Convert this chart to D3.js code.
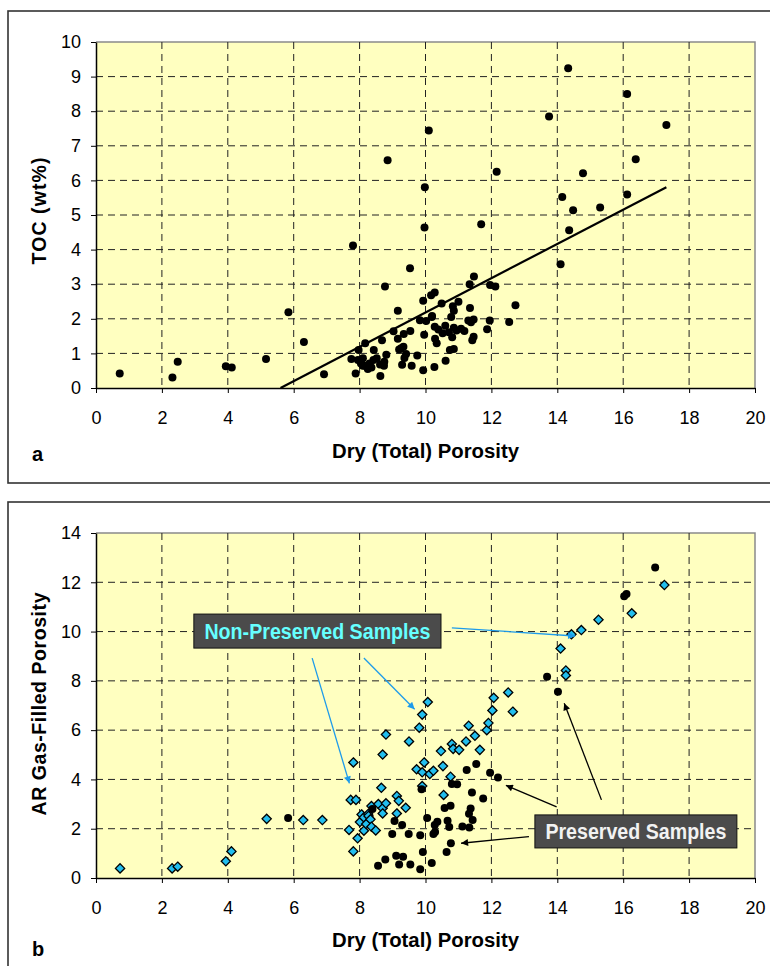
<!DOCTYPE html>
<html>
<head>
<meta charset="utf-8">
<script src="https://cdn.jsdelivr.net/npm/d3@7"></script>
<style>
  body { margin: 0; background: #fff; }
  svg text { font-family: "Liberation Sans", Arial, Helvetica, sans-serif; }
</style>
</head>
<body>
<svg id="chart" width="770" height="966"></svg>
<script>
// ---- data -------------------------------------------------------------
// Panel a: dry (total) porosity vs TOC (wt%)
const tocSamples = [
  [0.72,0.42],[2.32,0.30],[2.48,0.76],[3.94,0.63],[4.12,0.59],[5.16,0.84],[5.84,2.19],[6.31,1.33],[6.92,0.40],
  [7.80,4.12],[8.85,6.58],[10.10,7.44],[9.98,5.80],[9.97,4.64],[9.53,3.46],[8.77,2.93],
  [13.75,7.85],[14.33,9.24],[16.12,8.50],[17.31,7.60],[16.38,6.61],[12.16,6.25],[14.78,6.21],[14.15,5.52],
  [16.12,5.59],[14.48,5.14],[15.30,5.22],[14.36,4.56],[14.10,3.58],[11.69,4.73],
  [11.47,3.22],[11.34,3.00],[11.96,2.98],[12.12,2.93],[12.73,2.39],[12.54,1.91],[11.95,1.95],[11.87,1.70],
  [9.16,2.23],[9.93,2.52],[10.17,2.68],[10.28,2.76],[10.49,2.44],[10.83,2.36],[10.86,2.23],[11.35,2.31],
  [10.78,2.05],[9.83,1.96],[10.02,1.94],[10.19,2.05],[10.28,1.77],[10.39,1.69],[10.52,1.58],[10.60,1.80],
  [10.71,1.61],[10.81,1.47],[10.86,1.74],[10.94,1.66],[11.08,1.71],[11.18,1.65],[11.30,1.95],[11.38,1.90],
  [11.46,1.98],[11.46,1.48],[11.42,1.38],[10.29,1.42],[10.34,1.29],[10.86,1.13],[10.74,1.10],[10.61,0.79],
  [10.27,0.61],[9.93,0.51],[9.96,1.54],[9.75,0.94],[9.58,0.64],[9.54,1.65],[9.34,1.56],[9.16,1.42],
  [9.26,1.15],[9.33,1.19],[9.41,0.98],[9.36,0.87],[9.29,0.67],[9.20,1.11],[9.03,1.64],[8.68,1.38],
  [8.81,0.96],[8.74,0.64],[8.63,0.35],[8.52,0.86],[8.43,1.10],[8.17,1.29],[7.97,1.10],[7.75,0.84],
  [7.88,0.42],[8.10,0.86],[8.04,0.71],[8.16,0.64],[8.25,0.55],[8.36,0.59],[8.30,0.71],[8.62,0.68],
  [8.75,0.76],[8.42,0.81],[7.95,0.81],[8.10,0.64],[11.00,2.49],[10.20,2.08]
];
// Linear fit through panel a
const trendSlope = 0.4957;
const trendIntercept = -2.776;

// Panel b: dry (total) porosity vs AR gas-filled porosity
const preservedSamples = [
  [5.83,2.43],[8.39,2.80],[9.88,3.60],[10.80,3.81],[10.96,3.80],[11.25,4.38],[11.54,4.63],[11.96,4.27],
  [12.20,4.08],[11.41,3.47],[11.75,3.23],[10.58,2.84],[10.76,2.93],[11.37,2.82],[11.32,2.61],[10.05,2.43],
  [9.06,2.31],[9.29,2.15],[10.67,2.32],[10.72,2.07],[10.36,2.28],[10.28,2.15],[11.12,2.09],[11.33,2.05],
  [11.43,2.35],[10.24,1.79],[10.29,1.87],[9.49,1.79],[9.84,1.73],[8.99,1.79],[10.77,1.41],[10.64,1.06],
  [9.92,1.06],[9.11,0.90],[9.32,0.86],[8.78,0.75],[8.56,0.50],[9.20,0.55],[9.54,0.55],[9.84,0.36],
  [10.19,0.61],[13.69,8.17],[14.02,7.56],[16.03,11.43],[16.10,11.52],[16.97,12.60]
];
const nonPreservedSamples = [
  [0.73,0.39],[2.31,0.39],[2.48,0.46],[3.94,0.68],[4.11,1.08],[5.18,2.40],[6.29,2.35],[6.87,2.35],
  [7.68,1.95],[7.81,1.08],[7.94,1.61],[7.73,3.17],[7.89,3.17],[7.81,4.69],[8.01,2.27],[8.06,2.58],
  [8.13,2.46],[8.13,1.92],[8.20,2.19],[8.26,2.60],[8.27,2.52],[8.33,2.38],[8.36,2.08],[8.36,2.92],
  [8.49,1.93],[8.57,3.00],[8.66,3.66],[8.70,2.83],[8.70,2.62],[8.80,3.03],[8.70,5.01],[8.80,5.82],
  [9.13,3.33],[9.19,3.13],[9.13,2.62],[9.40,2.85],[9.50,5.54],[9.81,6.10],[9.90,6.63],[10.07,7.14],
  [9.96,4.69],[9.73,4.41],[9.90,4.29],[10.13,4.22],[10.24,4.35],[10.53,4.54],[10.76,4.11],[9.90,3.73],
  [10.55,3.37],[10.47,5.15],[10.80,5.44],[10.84,5.24],[11.02,5.20],[11.23,5.54],[11.31,6.18],[11.50,5.77],
  [11.65,5.20],[11.86,6.00],[11.91,6.29],[12.03,6.80],[12.07,7.31],[12.51,7.53],[12.65,6.75],
  [14.10,9.31],[14.26,8.42],[14.26,8.22],[14.43,9.89],[14.73,10.06],[15.25,10.48],[16.26,10.74],[17.25,11.89]
];

// Tick labels
const porosityTicks = [0,2,4,6,8,10,12,14,16,18,20];
const tocTicks = [0,1,2,3,4,5,6,7,8,9,10];
const gasTicks = [0,2,4,6,8,10,12,14];

// Callouts for panel b, in data units: box corners and arrow [from, to]
const nonPreservedLabel = { text: "Non-Preserved Samples", box: [[2.97,10.71],[10.47,9.33]] };
const nonPreservedArrows = [
  [[10.80,10.15],[14.54,9.82]],
  [[6.56,8.92],[7.69,3.84]],
  [[8.13,8.93],[9.67,6.85]]
];
const preservedLabel = { text: "Preserved Samples", box: [[13.32,2.56],[19.45,1.22]] };
const preservedArrows = [
  [[13.98,2.89],[12.44,3.76]],
  [[15.34,3.17],[14.21,7.09]],
  [[13.14,1.68],[11.08,1.41]]
];

// ---- drawing ------------------------------------------------------------
const svg = d3.select("#chart");
const FONT_TICK = 18;
const FONT_TITLE = 19.5;
const diamondFill = "#22BEEE";

// Panel frames
svg.append("rect").attr("x", 8).attr("y", 11).attr("width", 800).attr("height", 472)
  .attr("fill", "#fff").attr("stroke", "#333").attr("stroke-width", 1.6);
svg.append("rect").attr("x", 8).attr("y", 502).attr("width", 800).attr("height", 520)
  .attr("fill", "#fff").attr("stroke", "#333").attr("stroke-width", 1.6);

function drawPanel(cfg) {
  const { x, y, yTicks, g } = cfg;
  const [x0, x1] = x.range();
  const [yb, yt] = y.range();

  // plot background
  g.append("rect").attr("x", x0).attr("y", yt).attr("width", x1 - x0).attr("height", yb - yt)
    .attr("fill", "#FFFFC0");
  // gray top / right border
  g.append("path").attr("d", `M${x0},${yt}H${x1}V${yb}`).attr("fill", "none")
    .attr("stroke", "#8a8a8a").attr("stroke-width", 1.5);

  // dashed grid
  const grid = g.append("g").attr("stroke", "#222").attr("stroke-width", 1)
    .attr("stroke-dasharray", "7,5");
  grid.selectAll("line.v").data(porosityTicks.filter(d => d > 0 && d < 20)).join("line")
    .attr("x1", d => x(d)).attr("x2", d => x(d)).attr("y1", yt).attr("y2", yb);
  const yMax = y.domain()[1];
  grid.selectAll("line.h").data(yTicks.filter(d => d > 0 && d < yMax)).join("line")
    .attr("x1", x0).attr("x2", x1).attr("y1", d => y(d)).attr("y2", d => y(d));

  // axes
  const ax = g.append("g").attr("transform", `translate(0,${yb})`)
    .call(d3.axisBottom(x).tickValues(porosityTicks).tickSize(5).tickSizeOuter(0).tickPadding(18));
  const ay = g.append("g").attr("transform", `translate(${x0},0)`)
    .call(d3.axisLeft(y).tickValues(yTicks).tickSize(5).tickSizeOuter(0).tickPadding(10));
  [ax, ay].forEach(a => {
    a.select(".domain").attr("stroke", "#000").attr("stroke-width", 1.5);
    a.selectAll(".tick line").attr("stroke", "#000");
    a.selectAll(".tick text").attr("fill", "#000").style("font-size", FONT_TICK + "px")
      .style("font-family", '"Liberation Sans", Arial, sans-serif');
  });
}

// ---- panel a
const xA = d3.scaleLinear().domain([0, 20]).range([96, 755]);
const yA = d3.scaleLinear().domain([0, 10]).range([388, 42]);
const gA = svg.append("g");
drawPanel({ x: xA, y: yA, yTicks: tocTicks, g: gA });

const xStart = -trendIntercept / trendSlope;
const xEnd = d3.max(tocSamples, d => d[0]);
gA.append("line")
  .attr("x1", xA(xStart)).attr("y1", yA(trendSlope * xStart + trendIntercept))
  .attr("x2", xA(xEnd)).attr("y2", yA(trendSlope * xEnd + trendIntercept))
  .attr("stroke", "#000").attr("stroke-width", 2.2);

gA.append("g").selectAll("circle").data(tocSamples).join("circle")
  .attr("cx", d => xA(d[0])).attr("cy", d => yA(d[1])).attr("r", 4).attr("fill", "#000");

gA.append("text").attr("x", (xA.range()[0] + xA.range()[1]) / 2).attr("y", 458)
  .attr("text-anchor", "middle").attr("font-weight", "bold").style("font-size", FONT_TITLE + "px")
  .attr("textLength", 187).attr("lengthAdjust", "spacingAndGlyphs")
  .text("Dry (Total) Porosity");
gA.append("text").attr("transform", "translate(46,211) rotate(-90)")
  .attr("text-anchor", "middle").attr("font-weight", "bold").style("font-size", FONT_TITLE + "px")
  .attr("textLength", 107).attr("lengthAdjust", "spacing")
  .text("TOC (wt%)");
gA.append("text").attr("x", 32).attr("y", 461).attr("font-weight", "bold")
  .style("font-size", "20px").text("a");

// ---- panel b
const xB = d3.scaleLinear().domain([0, 20]).range([96, 755]);
const yB = d3.scaleLinear().domain([0, 14]).range([878, 533]);
const gB = svg.append("g");
drawPanel({ x: xB, y: yB, yTicks: gasTicks, g: gB });

const diamond = d3.symbol().type(d3.symbolDiamond2).size(54);
gB.append("g").selectAll("path").data(nonPreservedSamples).join("path")
  .attr("transform", d => `translate(${xB(d[0])},${yB(d[1])})`)
  .attr("d", diamond).attr("fill", diamondFill).attr("stroke", "#000").attr("stroke-width", 1.3);

gB.append("g").selectAll("circle").data(preservedSamples).join("circle")
  .attr("cx", d => xB(d[0])).attr("cy", d => yB(d[1])).attr("r", 4).attr("fill", "#000");

// arrowheads
const defs = svg.append("defs");
[["headBlue", "#1E9BEA"], ["headBlack", "#000"]].forEach(([id, c]) => {
  defs.append("marker").attr("id", id).attr("viewBox", "0 0 10 10").attr("refX", 10).attr("refY", 5)
    .attr("markerWidth", 9).attr("markerHeight", 7).attr("markerUnits", "userSpaceOnUse")
    .attr("orient", "auto")
    .append("path").attr("d", "M0,0L10,5L0,10Z").attr("fill", c);
});

function drawArrows(list, color, head) {
  gB.append("g").selectAll("line").data(list).join("line")
    .attr("x1", d => xB(d[0][0])).attr("y1", d => yB(d[0][1]))
    .attr("x2", d => xB(d[1][0])).attr("y2", d => yB(d[1][1]))
    .attr("stroke", color).attr("stroke-width", 1.3).attr("marker-end", `url(#${head})`);
}
drawArrows(nonPreservedArrows, "#1E9BEA", "headBlue");
drawArrows(preservedArrows, "#000", "headBlack");

function drawLabel(lbl, color, len) {
  const [[a, b], [c, d]] = lbl.box;
  const bx = xB(a), by = yB(b), bw = xB(c) - xB(a), bh = yB(d) - yB(b);
  gB.append("rect").attr("x", bx).attr("y", by).attr("width", bw).attr("height", bh)
    .attr("fill", "#4B4B4B").attr("stroke", "#111").attr("stroke-width", 1);
  gB.append("text").attr("x", bx + bw / 2).attr("y", by + bh / 2 + 7.5)
    .attr("text-anchor", "middle").attr("font-weight", "bold").style("font-size", "21.5px")
    .attr("fill", color).attr("textLength", len).attr("lengthAdjust", "spacingAndGlyphs")
    .text(lbl.text);
}
drawLabel(nonPreservedLabel, "#66FFFF", 226);
drawLabel(preservedLabel, "#F2F2F2", 181);

gB.append("text").attr("x", (xB.range()[0] + xB.range()[1]) / 2).attr("y", 947)
  .attr("text-anchor", "middle").attr("font-weight", "bold").style("font-size", FONT_TITLE + "px")
  .attr("textLength", 187).attr("lengthAdjust", "spacingAndGlyphs")
  .text("Dry (Total) Porosity");
gB.append("text").attr("transform", "translate(46,704) rotate(-90)")
  .attr("text-anchor", "middle").attr("font-weight", "bold").style("font-size", FONT_TITLE + "px")
  .attr("textLength", 223).attr("lengthAdjust", "spacing")
  .text("AR Gas-Filled Porosity");
gB.append("text").attr("x", 32).attr("y", 956).attr("font-weight", "bold")
  .style("font-size", "20px").text("b");
</script>
</body>
</html>
